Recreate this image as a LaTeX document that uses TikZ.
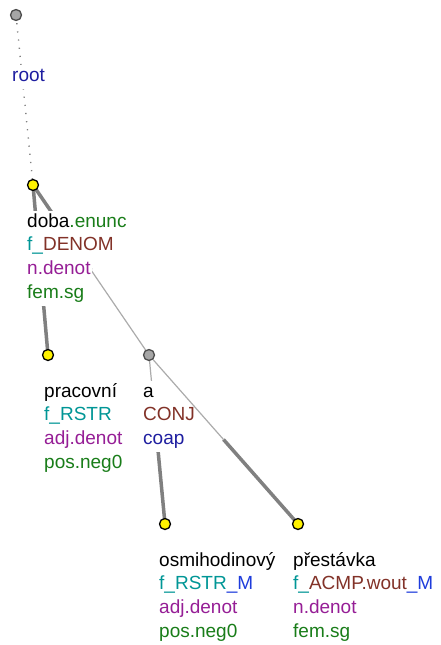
\documentclass[tikz,border=0pt]{standalone}
\usepackage{fontspec}
\setmainfont{Liberation Sans}
\usetikzlibrary{calc,backgrounds}
\definecolor{tgreen}{RGB}{25,125,25}
\definecolor{tteal}{RGB}{0,150,150}
\definecolor{tbrown}{RGB}{130,50,40}
\definecolor{tpurple}{RGB}{150,30,150}
\definecolor{tnavy}{RGB}{30,30,160}
\definecolor{tblue}{RGB}{30,60,220}
\begin{document}
\begin{tikzpicture}[x=1pt,y=-1pt,
  yel/.style={circle,draw=black,line width=1.3pt,fill=yellow,minimum size=11pt,inner sep=0pt},
  gry/.style={circle,draw=black!70,line width=1.3pt,fill=black!35,minimum size=11pt,inner sep=0pt},
  lbl/.style={anchor=base west,fill=white,inner xsep=1pt,inner ysep=1.5pt,
    text height=15pt,text depth=6pt,font=\fontsize{19}{23}\selectfont},
  thk/.style={line width=3.5pt,draw=black!50},
  thn/.style={line width=1.2pt,draw=black!33},
  dots/.style={line width=1.4pt,draw=black!50,dash pattern=on 1.2pt off 7pt}]
  \useasboundingbox (0,0) rectangle (440,645);

  % Tree nodes
  \node[gry] (root) at (16,15) {};
  \node[yel] (doba) at (33,185) {};
  \node[yel] (prac) at (48,355) {};
  \node[gry] (conj) at (149,355) {};
  \node[yel] (osmi) at (165,524) {};
  \node[yel] (pres) at (298,524) {};

  % Labels
  \node[lbl] (root2) at (11,81) {\textcolor{tnavy}{root}};

  \node[lbl] (doba1) at (26,227) {doba\textcolor{tgreen}{.enunc}};
  \node[lbl] (doba2) at (26,250.7) {\textcolor{tteal}{f\_}\textcolor{tbrown}{DENOM}};
  \node[lbl] (doba3) at (26,274.4) {\textcolor{tpurple}{n.denot}};
  \node[lbl] (doba4) at (26,298.1) {\textcolor{tgreen}{fem.sg}};

  \node[lbl] (prac1) at (43,397) {pracovní};
  \node[lbl] (prac2) at (43,420.7) {\textcolor{tteal}{f\_RSTR}};
  \node[lbl] (prac3) at (43,444.4) {\textcolor{tpurple}{adj.denot}};
  \node[lbl] (prac4) at (43,468.1) {\textcolor{tgreen}{pos.neg0}};

  \node[lbl] (conj1) at (142,397) {a};
  \node[lbl] (conj2) at (142,420.7) {\textcolor{tbrown}{CONJ}};
  \node[lbl] (conj3) at (142,444.4) {\textcolor{tnavy}{coap}};

  \node[lbl] (osmi1) at (158,566) {osmihodinový};
  \node[lbl] (osmi2) at (158,589.7) {\textcolor{tteal}{f\_RSTR}\textcolor{tblue}{\_M}};
  \node[lbl] (osmi3) at (158,613.4) {\textcolor{tpurple}{adj.denot}};
  \node[lbl] (osmi4) at (158,637.1) {\textcolor{tgreen}{pos.neg0}};

  \node[lbl] (pres1) at (292,566) {přestávka};
  \node[lbl] (pres2) at (292,589.7) {\textcolor{tteal}{f\_}\textcolor{tbrown}{ACMP.wout}\textcolor{tblue}{\_M}};
  \node[lbl] (pres3) at (292,613.4) {\textcolor{tpurple}{n.denot}};
  \node[lbl] (pres4) at (292,637.1) {\textcolor{tgreen}{fem.sg}};

  % Edges (behind the labels)
  \begin{scope}[on background layer]
    \draw[dots] (root.center) -- (doba.center);
    \draw[thk] (doba.center) -- (prac.center);
    \draw[thk] (doba.center) -- ($(doba)!.5!(conj)$);
    \draw[thn] ($(doba)!.5!(conj)$) -- (conj.center);
    \draw[thn] (conj.center) -- ($(conj)!.5!(osmi)$);
    \draw[thk] ($(conj)!.5!(osmi)$) -- (osmi.center);
    \draw[thk] ($(conj)!.5!(pres)$) -- (pres.center);
  \end{scope}
  % this one runs past CONJ, so it goes over the labels
  \draw[thn] (conj) -- ($(conj)!.5!(pres)$);
\end{tikzpicture}
\end{document}
